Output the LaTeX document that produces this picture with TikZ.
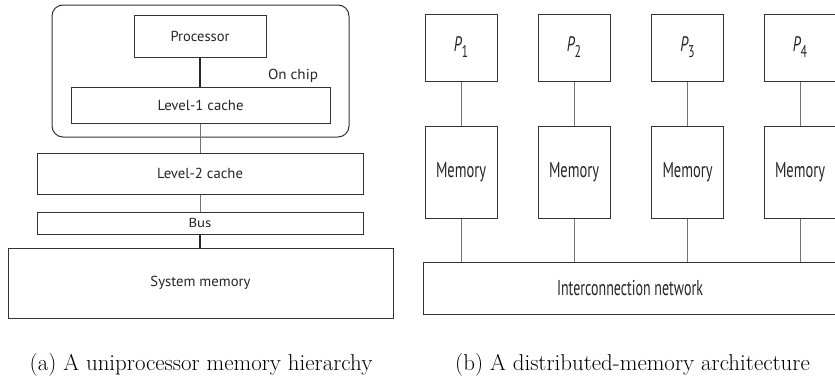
\documentclass[tikz,border=0pt]{standalone}
\usepackage{fontspec}
\newfontfamily\boxfont{PT Sans}
\newcommand\hsq[2]{\scalebox{#1}[1]{#2}}
% text set at size #2, squeezed or stretched to width #1
\newcommand\fitw[3]{\resizebox{#1}{\height}{\boxfont\fontsize{#2}{#2}\selectfont #3}}
\tikzset{
  box/.style={draw=black!80, line width=1pt, inner sep=0pt, fill=white, text=black!85},
  lbl/.style={inner sep=0pt, text=black!85},
  glink/.style={line width=1pt, draw=black!55},
  dlink/.style={line width=1.3pt, draw=black!85},
  captxt/.style={inner sep=0pt, font=\fontsize{22.9}{26}\selectfont},
}
\begin{document}
\begin{tikzpicture}[x=1pt,y=-1pt]
\useasboundingbox (0,0) rectangle (835,380);
\clip (0,0) rectangle (835,380);
% ---- (a) uniprocessor ----
\node[box, rounded corners=11pt, minimum width=297pt, minimum height=132pt] (chip) at (200.5,71) {};
\node[box, minimum width=132pt, minimum height=42pt] (proc) at (200,36)
  {\fitw{59pt}{14.5}{Processor}};
\node[box, minimum width=259pt, minimum height=36pt] (l1) at (200.5,105)
  {\fitw{86pt}{14.5}{Level-1 cache}};
\node[lbl] (onchip) at (293,76) {\fitw{50pt}{14.5}{On chip}};
\node[box, minimum width=326pt, minimum height=41pt] (l2) at (200,173.5)
  {\fitw{86pt}{14.5}{Level-2 cache}};
\node[box, minimum width=326pt, minimum height=22pt] (bus) at (200,223)
  {\fitw{23pt}{13}{Bus}};
\node[box, minimum width=385pt, minimum height=70pt] (sys) at (200.5,283)
  {\fitw{100pt}{14.5}{System memory}};
\draw[dlink] (proc.south) -- (proc.south |- l1.north);
\draw[glink] (l1.south) -- (l1.south |- l2.north);
\draw[glink] (l2.south) -- (l2.south |- bus.north);
\draw[dlink] (bus.south) -- (bus.south |- sys.north);
\node[captxt] (capa) at (201,364.5) {(a) A uniprocessor memory hierarchy};
% ---- (b) distributed memory ----
\foreach \i/\x in {1/461,2/574,3/687.5,4/800}{
  \node[box, minimum width=72pt, minimum height=67pt] (p\i) at (\x,47.5)
    {\boxfont\fontsize{21}{21}\selectfont\hsq{0.7}{\itshape P\raisebox{-6pt}{\upshape\fontsize{17}{17}\selectfont\i}}};
  \node[box, minimum width=72pt, minimum height=92pt] (m\i) at (\x,172)
    {\fitw{50pt}{21.5}{Memory}};
}
\node[box, minimum width=414pt, minimum height=52pt] (net) at (630,288)
  {\fitw{146pt}{21.5}{Interconnection network}};
\foreach \i in {1,2,3,4}{
  \draw[glink] (p\i.south) -- (m\i.north);
  \draw[glink] (m\i.south) -- (m\i.south |- net.north);
}
\node[captxt] (capb) at (632.5,364.5) {(b) A distributed-memory architecture};
\end{tikzpicture}
\end{document}
